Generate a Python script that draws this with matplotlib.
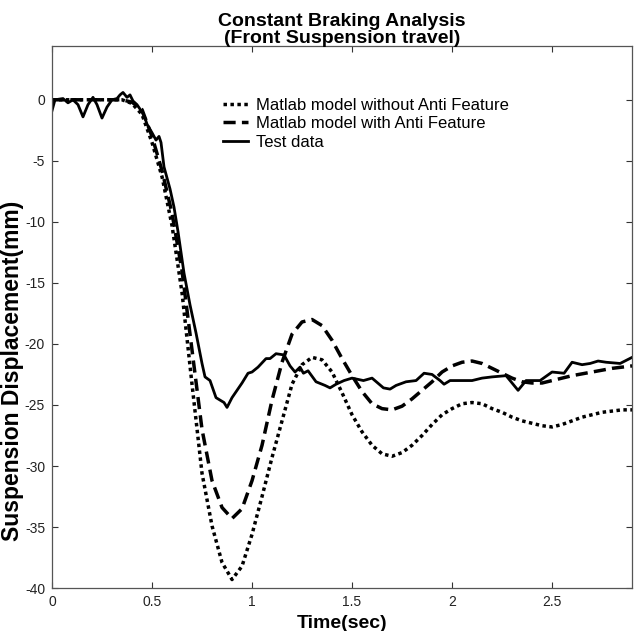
import numpy as np
import matplotlib
matplotlib.use('Agg')
import matplotlib.pyplot as plt

plt.rcParams['font.family'] = ['Liberation Sans', 'DejaVu Sans']
plt.rcParams['axes.unicode_minus'] = False

# --- data (time in sec, displacement in mm) ---
t_no_anti = [0.0, 0.35, 0.4, 0.45, 0.5, 0.55, 0.6, 0.65, 0.7, 0.75, 0.8, 0.85, 0.9, 0.95,
             1.0, 1.05, 1.1, 1.15, 1.2, 1.25, 1.3, 1.35, 1.4, 1.45, 1.5, 1.55, 1.6, 1.65,
             1.7, 1.75, 1.8, 1.85, 1.9, 1.95, 2.0, 2.05, 2.1, 2.15, 2.2, 2.25, 2.3, 2.35,
             2.4, 2.45, 2.5, 2.55, 2.6, 2.65, 2.7, 2.75, 2.8, 2.85, 2.9]
d_no_anti = [0.0, 0.0, -0.3, -1.2, -3.5, -6.3, -10.3, -15.8, -23.3, -30.6, -34.9, -37.9, -39.3, -38.2,
             -35.6, -32.5, -29.3, -26.3, -23.3, -21.7, -21.1, -21.3, -22.3, -24.0, -25.8, -27.2, -28.3, -29.0,
             -29.2, -28.9, -28.3, -27.5, -26.6, -25.8, -25.3, -24.9, -24.8, -24.9, -25.3, -25.6, -26.0, -26.3,
             -26.5, -26.7, -26.8, -26.6, -26.3, -26.0, -25.8, -25.6, -25.5, -25.4, -25.4]

t_anti = [0.0, 0.35, 0.4, 0.45, 0.5, 0.55, 0.6, 0.65, 0.7, 0.75, 0.8, 0.85, 0.9, 0.95,
          1.0, 1.05, 1.1, 1.15, 1.2, 1.25, 1.3, 1.35, 1.4, 1.45, 1.5, 1.55, 1.6, 1.65,
          1.7, 1.75, 1.8, 1.85, 1.9, 1.95, 2.0, 2.05, 2.1, 2.15, 2.2, 2.25, 2.3, 2.35,
          2.4, 2.45, 2.5, 2.6, 2.7, 2.8, 2.9]
d_anti = [0.0, 0.0, -0.2, -0.8, -3.0, -5.8, -9.3, -14.0, -20.5, -27.0, -31.2, -33.4, -34.3, -33.5,
          -31.2, -28.3, -24.6, -21.5, -19.2, -18.2, -18.0, -18.5, -19.7, -21.2, -22.6, -23.9, -24.9, -25.3,
          -25.4, -25.1, -24.5, -23.8, -23.1, -22.3, -21.8, -21.5, -21.4, -21.6, -22.0, -22.4, -22.8, -23.1,
          -23.2, -23.2, -23.0, -22.6, -22.3, -22.0, -21.8]

t_test = [0.0, 0.015, 0.055, 0.08, 0.105, 0.13, 0.155, 0.18, 0.205, 0.225, 0.25, 0.275, 0.3,
          0.325, 0.34, 0.355, 0.375, 0.39, 0.405, 0.425, 0.45, 0.465, 0.475, 0.5, 0.52,
          0.535, 0.545, 0.56, 0.59, 0.61, 0.63, 0.66, 0.69, 0.72, 0.75, 0.765, 0.79,
          0.82, 0.84, 0.86, 0.875, 0.9, 0.925, 0.95, 0.98, 1.0, 1.03, 1.07, 1.09, 1.12,
          1.16, 1.19, 1.215, 1.24, 1.257, 1.28, 1.32, 1.365, 1.39, 1.42, 1.46, 1.5,
          1.557, 1.6, 1.657, 1.69, 1.72, 1.77, 1.82, 1.86, 1.9, 1.94, 1.96, 1.99, 2.05,
          2.1, 2.15, 2.2, 2.27, 2.33, 2.37, 2.44, 2.5, 2.56, 2.6, 2.65, 2.69, 2.73,
          2.77, 2.84, 2.9]
d_test = [-0.9, 0.0, 0.1, -0.25, 0.0, -0.4, -1.4, -0.4, 0.2, -0.4, -1.5, -0.6, 0.0,
          0.1, 0.4, 0.6, 0.2, 0.4, -0.1, -0.4, -1.0, -1.5, -2.0, -2.7, -3.3,
          -3.0, -3.5, -5.5, -7.3, -8.8, -10.8, -14.2, -16.8, -19.1, -21.6, -22.7, -23.0,
          -24.4, -24.6, -24.8, -25.2, -24.4, -23.8, -23.2, -22.4, -22.3, -21.9, -21.2, -21.2, -20.8,
          -20.9, -21.8, -22.3, -21.9, -22.4, -22.2, -23.1, -23.4, -23.6, -23.3, -23.0, -22.8,
          -23.0, -22.8, -23.6, -23.7, -23.4, -23.1, -23.0, -22.4, -22.5, -23.0, -23.3, -23.0, -23.0,
          -23.0, -22.8, -22.7, -22.6, -23.8, -23.0, -23.0, -22.3, -22.4, -21.5, -21.7, -21.6, -21.4,
          -21.5, -21.6, -21.1]

labels = ['Matlab model without Anti Feature', 'Matlab model with Anti Feature', 'Test data']
x_ticks = [0, 0.5, 1, 1.5, 2, 2.5]
x_ticklabels = ['0', '0.5', '1', '1.5', '2', '2.5']
y_ticks = [0, -5, -10, -15, -20, -25, -30, -35, -40]

fig = plt.figure(figsize=(6.34, 6.31), dpi=100)
ax = fig.add_axes([0.082, 0.068, 0.915, 0.859])

ax.plot(t_no_anti, d_no_anti, color='black', lw=2.5, linestyle=(0, (1, 1)),
        dash_capstyle='butt', label=labels[0])
ax.plot(t_anti, d_anti, color='black', lw=2.5, linestyle=(0, (3.5, 1.8)),
        dash_capstyle='butt', label=labels[1])
ax.plot(t_test, d_test, color='black', lw=2.0, label=labels[2])

ax.set_xlim(0, 2.9)
ax.set_ylim(-40, 4.4)
ax.set_xticks(x_ticks)
ax.set_xticklabels(x_ticklabels)
ax.set_yticks(y_ticks)
ax.tick_params(direction='in', top=True, right=True, length=4, width=0.8,
               labelsize=10, colors='#333333', labelcolor='#222222', pad=5)
for s in ax.spines.values():
    s.set_color('#555555')
    s.set_linewidth(0.9)

ax.set_title('Constant Braking Analysis\n(Front Suspension travel)', fontsize=14,
             fontweight='bold', linespacing=1.05, pad=2)
ax.set_xlabel('Time(sec)', fontsize=14, fontweight='bold', labelpad=4)
ax.set_ylabel('Suspension Displacement(mm)', fontsize=16.5, fontweight='bold')
ax.yaxis.set_label_coords(-0.048, 0.40)

ax.legend(loc='upper left', bbox_to_anchor=(0.295, 0.905), frameon=False, fontsize=12,
          handlelength=1.5, handletextpad=0.5, labelspacing=0.22, borderpad=0,
          borderaxespad=0)

fig.savefig('out.png', dpi=100)
